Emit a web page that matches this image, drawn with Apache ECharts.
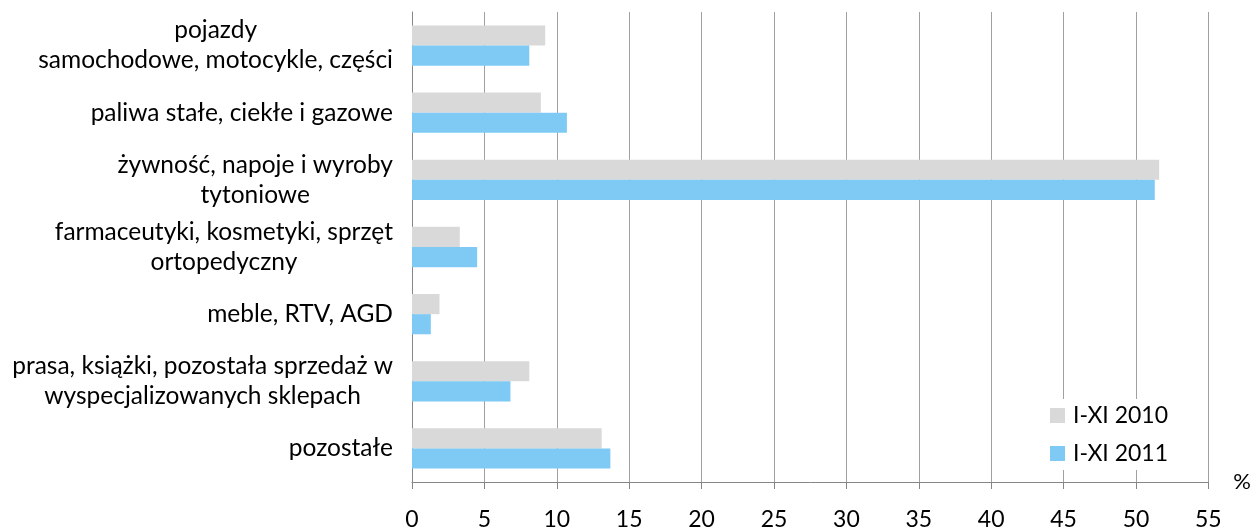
<!DOCTYPE html>
<html>
<head>
<meta charset="utf-8">
<script src="https://cdn.jsdelivr.net/npm/echarts@6/dist/echarts.min.js"></script>
<style>html,body{margin:0;padding:0;background:#fff}#c{width:1254px;height:531px}</style>
</head>
<body>
<div id="c"></div>
<script>
var categories = [
  "pojazdy\nsamochodowe, motocykle, części",
  "paliwa stałe, ciekłe i gazowe",
  "żywność, napoje i wyroby\ntytoniowe",
  "farmaceutyki, kosmetyki, sprzęt\nortopedyczny",
  "meble, RTV, AGD",
  "prasa, książki, pozostała sprzedaż w\nwyspecjalizowanych sklepach",
  "pozostałe"
];
var series2010 = [9.2, 8.9, 51.6, 3.3, 1.9, 8.1, 13.1];
var series2011 = [8.1, 10.7, 51.3, 4.5, 1.3, 6.8, 13.7];
var seriesNames = ["I-XI 2010", "I-XI 2011"];
var xTicks = {min: 0, max: 55, interval: 5};

var FONT = "Lato";
var chart = echarts.init(document.getElementById('c'));
chart.setOption({
  animation: false,
  textStyle: {fontFamily: FONT},
  grid: {left: 412, right: 43, top: 12, bottom: 49, containLabel: false},
  legend: {
    orient: 'vertical',
    left: 1044, top: 399,
    itemWidth: 15, itemHeight: 15, itemGap: 15,
    padding: [5, 8, 5, 6],
    backgroundColor: '#ffffff',
    icon: 'rect',
    textStyle: {fontSize: 23, color: '#000', fontFamily: FONT, padding: [0, 0, 0, 3]},
    data: seriesNames
  },
  xAxis: {
    type: 'value',
    min: xTicks.min, max: xTicks.max, interval: xTicks.interval,
    name: '%',
    nameLocation: 'end',
    nameGap: 25,
    nameTextStyle: {fontSize: 22, color: '#000', fontFamily: FONT, verticalAlign: 'middle'},
    axisLine: {show: true, lineStyle: {color: '#868686', width: 1}},
    axisTick: {show: true, length: 7, inside: false, lineStyle: {color: '#868686'}},
    axisLabel: {fontSize: 23, color: '#000', margin: 26, fontFamily: FONT},
    splitLine: {show: true, lineStyle: {color: '#a0a0a0', width: 1}}
  },
  yAxis: {
    type: 'category',
    inverse: true,
    data: categories,
    axisLine: {show: true, lineStyle: {color: '#868686', width: 1}},
    axisTick: {show: false},
    axisLabel: {
      margin: 19,
      align: 'right',
      formatter: function (v) {
        return v.split('\n').map(function (l) { return '{c|' + l + '}'; }).join('\n');
      },
      rich: {c: {align: 'center', fontSize: 24.5, lineHeight: 30, color: '#000', fontFamily: FONT}}
    }
  },
  series: [
    {name: seriesNames[0], type: 'bar', data: series2010, barGap: '0%', barCategoryGap: '40%',
     itemStyle: {color: '#d9d9d9'}},
    {name: seriesNames[1], type: 'bar', data: series2011, barGap: '0%', barCategoryGap: '40%',
     itemStyle: {color: '#7fcaf5'}}
  ]
});
</script>
</body>
</html>
